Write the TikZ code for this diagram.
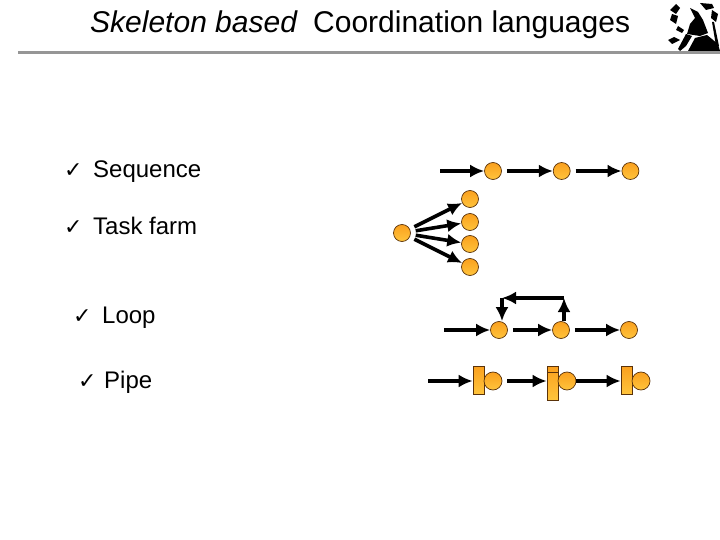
\documentclass[tikz,border=0pt]{standalone}
\usepackage{fontspec}
\setmainfont{Liberation Sans}
\newfontfamily\checkfont{DejaVu Sans}
\usetikzlibrary{arrows.meta,positioning}
\definecolor{DotEdge}{RGB}{90,50,10}
\definecolor{DotTop}{RGB}{250,160,30}
\definecolor{DotLow}{RGB}{255,196,60}
\definecolor{RuleGray}{RGB}{150,150,150}
\begin{document}
\begin{tikzpicture}[x=1pt,y=-1pt,node distance=51pt,
dot/.style={circle,draw=DotEdge,line width=.7pt,top color=DotTop,bottom color=DotLow,minimum size=17pt,inner sep=0pt},
bar/.style={rectangle,draw=DotEdge,line width=.7pt,top color=DotTop,bottom color=DotLow,minimum width=11pt,minimum height=28pt,inner sep=0pt},
arrow/.style={-{Latex[length=14pt,width=13pt]},line width=3.6pt,black},
item/.style={anchor=base west,font=\fontsize{24}{26}\selectfont,inner sep=0pt},
tick/.style={anchor=base west,font=\checkfont\fontsize{22}{24}\selectfont,inner sep=0pt},
logo/.style={fill=black,draw=none}]
\useasboundingbox (0,0) rectangle (720,540);
% title
\node[anchor=base west,font=\fontsize{30}{32}\selectfont\itshape,inner sep=0pt](title) at (90,33){Skeleton based};
\node[anchor=base west,font=\fontsize{30}{32}\selectfont,inner sep=0pt](title2) at (313,33){Coordination languages};
\coordinate(ruleL) at (18,53);
\coordinate(ruleR) at (720,53);
\draw[RuleGray,line width=3pt](ruleL)--(ruleR);
% logo
\fill[logo](690,8)--(698,12)--(703,20)--(708,33)--(700,36)--(687,34)--(690,24)--(695,18)--cycle;
\fill[logo](688,51)--(695,38)--(707,35)--(718,44)--(720,51)--cycle;
\fill[logo](686,34)--(692,36)--(686,46)--(680,51)--(678,49)--cycle;
\fill[logo](668,40)--(674,37)--(680,40)--(672,44)--cycle;
\fill[logo](670,10)--(676,4)--(680,8)--(676,14)--cycle;
\fill[logo](672,14)--(678,16)--(676,24)--(670,20)--cycle;
\fill[logo](700,3)--(712,4)--(714,8)--(706,10)--cycle;
\fill[logo](712,10)--(718,14)--(716,22)--(711,18)--cycle;
\fill[logo](712,22)--(714,22)--(719,46)--(716,46)--cycle;
\fill[logo](678,26)--(684,30)--(682,33)--(676,30)--cycle;
% items
\node[tick](t1) at (64,178){✓};
\node[item](i1) at (93,178){Sequence};
\node[tick](t2) at (64,235){✓};
\node[item](i2) at (93,235){Task farm};
\node[tick](t3) at (73,323){✓};
\node[item](i3) at (102,323){Loop};
\node[tick](t4) at (78,388){✓};
\node[item](i4) at (104,388){Pipe};
% sequence
\node[dot](s1) at (493,171){};
\node[dot,right=of s1](s2){};
\node[dot,right=of s2](s3){};
\coordinate[left=44pt of s1](s0);
\draw[arrow](s0)--(s1);
\foreach \x/\y in {s1/s2,s2/s3}{\draw[arrow,shorten <=5pt](\x)--(\y);}
% task farm
\node[dot](f0) at (402,233){};
\node[dot](f1) at (470,199){};
\node[dot](f2) at (470,222){};
\node[dot](f3) at (470,244){};
\node[dot](f4) at (470,267){};
\foreach \y in {f1,f2,f3,f4}{\draw[arrow,shorten <=5pt](f0)--(\y);}
% loop
\node[dot](l1) at (499,330){};
\node[dot](l2) at (561,330){};
\node[dot](l3) at (629,330){};
\coordinate[left=46pt of l1](l0);
\coordinate(lu) at (564,298);
\coordinate(lv) at (502,298);
\draw[arrow](l0)--(l1);
\foreach \x/\y in {l1/l2,l2/l3}{\draw[arrow,shorten <=5pt](\x)--(\y);}
\draw[arrow]([xshift=3pt]l2.north)--(lu);
\draw[arrow](lu)--(lv);
\draw[arrow](lv)--([xshift=3pt]l1.north);
% pipe
\node[bar](b1) at (478.5,380){};
\node[dot,minimum size=18pt](p1) at (493,381){};
\node[bar,minimum height=34pt](b2) at (552.5,383){};
\node[dot,minimum size=18pt](p2) at (567,381){};
\node[bar](b3) at (626.5,380){};
\node[dot,minimum size=18pt](p3) at (641,381){};
\coordinate(b2a) at (547,372);
\coordinate(b2b) at (558,372);
\draw[DotEdge,line width=.7pt](b2a)--(b2b);
\coordinate(p0) at (428,381);
\draw[arrow](p0)--(p0-|b1.west);
\draw[arrow,shorten <=5pt](p1)--(p1-|b2.west);
\draw[arrow](p2.east)--(p2-|b3.west);
\end{tikzpicture}
\end{document}
